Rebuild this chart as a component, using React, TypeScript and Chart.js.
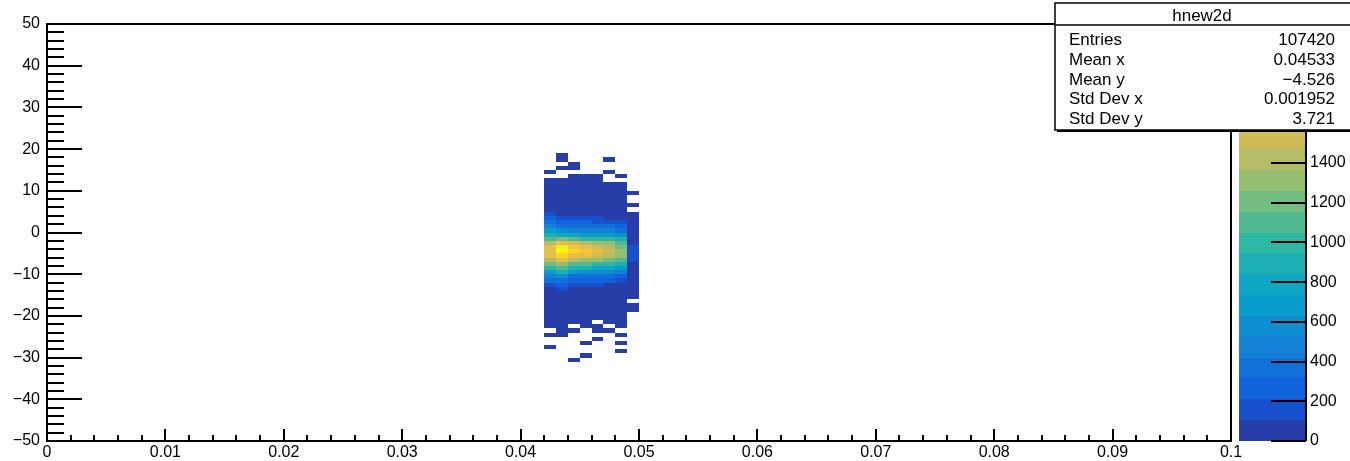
import React, { useEffect, useRef } from "react";
import { Chart, registerables } from "chart.js";

Chart.register(...registerables);

// ---------- data ----------
const X_BIN_LOW = [0.042, 0.043, 0.044, 0.045, 0.046, 0.047, 0.048, 0.049];
const X_BIN_WIDTH = 0.001;
const Y_BIN_WIDTH = 1;
const Y_BIN_LOW = [
  18, 17, 16, 15, 14, 13, 12, 11, 10, 9, 8, 7, 6, 5, 4, 3, 2, 1, 0, -1, -2, -3, -4, -5, -6,
  -7, -8, -9, -10, -11, -12, -13, -14, -15, -16, -17, -18, -19, -20, -21, -22, -23, -24,
  -25, -26, -27, -28, -29, -30, -31,
];

// counts per x-bin column, rows follow Y_BIN_LOW
const COL_0 = [
  0, 0, 0, 0, 1, 0, 2, 3, 5, 8, 12, 18, 28, 45,
  160, 260, 370, 470, 680, 890, 1100, 1420, 1630, 1640, 1600, 1430, 1200, 990, 700, 480, 350, 170,
  95, 60, 40, 25, 15, 10, 6, 4, 3, 2, 0, 1, 0, 0, 1, 0, 0, 0,
];
const COL_1 = [
  1, 2, 0, 2, 0, 0, 3, 4, 6, 9, 14, 22, 35, 55,
  90, 180, 280, 400, 580, 790, 1210, 1620, 1930, 2098, 1830, 1610, 1330, 1150, 880, 560, 360, 240,
  150, 90, 60, 38, 24, 15, 9, 6, 4, 3, 2, 1, 0, 0, 0, 0, 0, 0,
];
const COL_2 = [
  0, 0, 1, 2, 0, 2, 3, 5, 7, 10, 15, 23, 35, 55,
  85, 150, 250, 360, 500, 780, 1090, 1510, 1720, 1820, 1620, 1410, 1100, 900, 690, 380, 260, 140,
  80, 55, 35, 22, 14, 9, 6, 4, 2, 0, 1, 0, 0, 0, 0, 0, 0, 1,
];
const COL_3 = [
  0, 0, 0, 0, 0, 2, 3, 5, 7, 10, 15, 22, 34, 52,
  80, 140, 240, 350, 490, 680, 1000, 1420, 1640, 1700, 1600, 1300, 1080, 880, 580, 370, 250, 130,
  78, 52, 34, 22, 14, 9, 5, 3, 2, 1, 0, 0, 0, 1, 0, 0, 1, 0,
];
const COL_4 = [
  0, 0, 0, 0, 0, 1, 3, 4, 7, 10, 14, 21, 32, 50,
  75, 130, 200, 340, 470, 660, 980, 1300, 1530, 1600, 1520, 1290, 1000, 800, 560, 350, 240, 120,
  75, 50, 32, 20, 12, 8, 5, 3, 0, 2, 1, 0, 1, 0, 0, 0, 0, 0,
];
const COL_5 = [
  0, 1, 0, 0, 1, 0, 0, 3, 5, 8, 12, 19, 30, 46,
  70, 100, 180, 330, 450, 650, 960, 1270, 1400, 1480, 1390, 1180, 950, 760, 540, 340, 220, 100,
  68, 45, 30, 19, 12, 7, 4, 3, 2, 0, 1, 0, 0, 0, 0, 0, 0, 0,
];
const COL_6 = [
  0, 0, 0, 0, 0, 1, 0, 2, 4, 6, 9, 14, 22, 35,
  55, 85, 140, 230, 340, 560, 870, 1080, 1180, 1270, 1280, 1090, 870, 670, 450, 260, 150, 90,
  58, 38, 25, 16, 10, 6, 4, 3, 2, 1, 0, 1, 0, 1, 0, 1, 0, 0,
];
const COL_7 = [
  0, 0, 0, 0, 0, 0, 0, 0, 0, 1, 0, 0, 1, 0,
  2, 3, 5, 8, 14, 22, 34, 50, 110, 125, 115, 108, 45, 32, 22, 14, 9, 6,
  4, 3, 2, 0, 1, 1, 0, 0, 0, 0, 0, 0, 0, 0, 0, 0, 0, 0,
];
const COLUMNS = [COL_0, COL_1, COL_2, COL_3, COL_4, COL_5, COL_6, COL_7];

const X_TICK_VALUES = [0, 0.01, 0.02, 0.03, 0.04, 0.05, 0.06, 0.07, 0.08, 0.09, 0.1];
const X_TICK_LABELS = ["0", "0.01", "0.02", "0.03", "0.04", "0.05", "0.06", "0.07", "0.08", "0.09", "0.1"];
const Y_TICK_VALUES = [-50, -40, -30, -20, -10, 0, 10, 20, 30, 40, 50];
const Y_TICK_LABELS = ["\u221250", "\u221240", "\u221230", "\u221220", "\u221210", "0", "10", "20", "30", "40", "50"];
const Z_TICK_VALUES = [0, 200, 400, 600, 800, 1000, 1200, 1400, 1600, 1800, 2000];
const Z_TICK_LABELS = ["0", "200", "400", "600", "800", "1000", "1200", "1400", "1600", "1800", "2000"];
const X_MINOR_STEP = 0.002;
const Y_MINOR_STEP = 2;

const ZMAX = 2100;
const N_CONTOURS = 20;

const STATS_TITLE = "hnew2d";
const STATS_LABELS = ["Entries", "Mean x", "Mean y", "Std Dev x", "Std Dev y"];
const STATS_VALUES = ["107420", "0.04533", "\u22124.526", "0.001952", "3.721"];

// ROOT kBird palette
const BIRD_STOPS = [0.0, 0.125, 0.25, 0.375, 0.5, 0.625, 0.75, 0.875, 1.0];
const BIRD_R = [0.2082, 0.0592, 0.078, 0.0232, 0.1802, 0.5301, 0.8186, 0.9956, 0.9764];
const BIRD_G = [0.1664, 0.3599, 0.5041, 0.6419, 0.7178, 0.7492, 0.7328, 0.7862, 0.9832];
const BIRD_B = [0.5293, 0.8684, 0.8385, 0.7914, 0.6425, 0.4662, 0.3499, 0.1968, 0.0539];

const FONT = "'Liberation Sans', Arial, Helvetica, sans-serif";

function birdColor(p: number): string {
  let s = 0;
  while (s < BIRD_STOPS.length - 2 && p > BIRD_STOPS[s + 1]) s++;
  const t = (p - BIRD_STOPS[s]) / (BIRD_STOPS[s + 1] - BIRD_STOPS[s]);
  const c = (a: number[]) => Math.round(255 * (a[s] + (a[s + 1] - a[s]) * t));
  return `rgb(${c(BIRD_R)},${c(BIRD_G)},${c(BIRD_B)})`;
}
function levelColor(level: number): string {
  const idx = Math.floor(((level + 0.99) * 255) / N_CONTOURS);
  return birdColor(Math.min(1, idx / 254));
}
function valueColor(v: number): string {
  let lvl = Math.floor(v / (ZMAX / N_CONTOURS));
  if (lvl < 0) lvl = 0;
  if (lvl > N_CONTOURS - 1) lvl = N_CONTOURS - 1;
  return levelColor(lvl);
}

const heatmapPlugin = {
  id: "heatmap",
  beforeDatasetsDraw(chart: any) {
    const { ctx, chartArea, scales } = chart;
    const xs = scales.x;
    const ys = scales.y;
    ctx.save();
    ctx.beginPath();
    ctx.rect(chartArea.left, chartArea.top, chartArea.right - chartArea.left, chartArea.bottom - chartArea.top);
    ctx.clip();
    for (const c of chart.data.datasets[0].data) {
      const x0 = Math.round(xs.getPixelForValue(c.x - X_BIN_WIDTH / 2));
      const x1 = Math.round(xs.getPixelForValue(c.x + X_BIN_WIDTH / 2));
      const y0 = Math.round(ys.getPixelForValue(c.y + Y_BIN_WIDTH / 2));
      const y1 = Math.round(ys.getPixelForValue(c.y - Y_BIN_WIDTH / 2));
      ctx.fillStyle = valueColor(c.v);
      ctx.fillRect(x0, y0, x1 - x0, y1 - y0);
    }
    ctx.restore();
  },
};

const decorPlugin = {
  id: "decor",
  afterDraw(chart: any) {
    const { ctx, chartArea, scales } = chart;
    const xs = scales.x;
    const ys = scales.y;
    const zs = scales.z;
    const { left, right, top, bottom } = chartArea;
    ctx.save();
    ctx.strokeStyle = "#000";
    ctx.lineWidth = 2;
    // frame
    ctx.strokeRect(left, top, right - left, bottom - top);
    // y ticks
    ctx.beginPath();
    const ny = Math.round((ys.max - ys.min) / Y_MINOR_STEP);
    for (let i = 0; i <= ny; i++) {
      const v = ys.min + i * Y_MINOR_STEP;
      const major = Math.abs(v % 10) < 1e-9;
      const py = Math.round(ys.getPixelForValue(v));
      ctx.moveTo(left, py);
      ctx.lineTo(left + (major ? 35 : 17), py);
    }
    // x ticks
    const nx = Math.round((xs.max - xs.min) / X_MINOR_STEP);
    for (let i = 0; i <= nx; i++) {
      const v = xs.min + i * X_MINOR_STEP;
      const major = i % 5 === 0;
      const px = Math.round(xs.getPixelForValue(v));
      ctx.moveTo(px, bottom);
      ctx.lineTo(px, bottom - (major ? 12 : 6));
    }
    ctx.stroke();

    // colour bar
    const cbL = right + 8;
    const cbR = right + 75;
    for (let i = 0; i < N_CONTOURS; i++) {
      const ya = Math.round(zs.getPixelForValue((i * ZMAX) / N_CONTOURS));
      const yb = Math.round(zs.getPixelForValue(((i + 1) * ZMAX) / N_CONTOURS));
      ctx.fillStyle = levelColor(i);
      ctx.fillRect(cbL, yb, cbR - cbL, ya - yb);
    }
    ctx.beginPath();
    ctx.moveTo(cbR, top);
    ctx.lineTo(cbR, bottom);
    for (const v of Z_TICK_VALUES) {
      const py = Math.round(zs.getPixelForValue(v));
      ctx.moveTo(cbR - 35, py);
      ctx.lineTo(cbR, py);
    }
    ctx.stroke();

    // stats box
    const bx = 1055;
    const by = 3;
    const bw = 300;
    const bh = 127;
    ctx.fillStyle = "#fff";
    ctx.fillRect(bx, by, bw, bh);
    ctx.fillStyle = "#000";
    ctx.fillRect(bx + 2, by + bh, bw, 2);
    ctx.lineWidth = 1.5;
    ctx.strokeRect(bx, by, bw, bh);
    ctx.beginPath();
    ctx.moveTo(bx, 25);
    ctx.lineTo(bx + bw, 25);
    ctx.stroke();
    ctx.font = `17px ${FONT}`;
    ctx.textBaseline = "alphabetic";
    ctx.textAlign = "center";
    ctx.fillText(STATS_TITLE, 1202, 21);
    for (let i = 0; i < STATS_LABELS.length; i++) {
      const yb = 45 + i * 19.75;
      ctx.textAlign = "left";
      ctx.fillText(STATS_LABELS[i], 1069, yb);
      ctx.textAlign = "right";
      ctx.fillText(STATS_VALUES[i], 1335, yb);
    }
    ctx.restore();
  },
};

export default function App() {
  const ref = useRef<HTMLCanvasElement | null>(null);
  useEffect(() => {
    document.body.style.margin = "0";
    const canvas = ref.current;
    if (!canvas) return;
    const cells: { x: number; y: number; v: number }[] = [];
    COLUMNS.forEach((col, j) =>
      col.forEach((v, r) => {
        if (v > 0) cells.push({ x: X_BIN_LOW[j] + X_BIN_WIDTH / 2, y: Y_BIN_LOW[r] + Y_BIN_WIDTH / 2, v });
      })
    );
    const tickFont = { family: FONT, size: 16 };
    const chart = new Chart(canvas, {
      type: "scatter",
      data: { datasets: [{ data: cells as any, pointRadius: 0, pointHoverRadius: 0 }] },
      options: {
        animation: false,
        responsive: false,
        maintainAspectRatio: false,
        events: [],
        layout: { padding: { top: 24, left: 0, right: 0, bottom: 0 } },
        plugins: { legend: { display: false }, tooltip: { enabled: false }, title: { display: false } },
        scales: {
          x: {
            type: "linear",
            position: "bottom",
            min: 0,
            max: 0.1,
            grid: { display: false, drawTicks: false },
            border: { display: false },
            afterBuildTicks: (s: any) => {
              s.ticks = X_TICK_VALUES.map((v) => ({ value: v }));
            },
            afterFit: (s: any) => {
              s.height = 20;
            },
            ticks: {
              callback: (_v: any, i: number) => X_TICK_LABELS[i],
              font: tickFont,
              color: "#000",
              padding: 2,
              maxRotation: 0,
              autoSkip: false,
            },
          },
          y: {
            type: "linear",
            position: "left",
            min: -50,
            max: 50,
            grid: { display: false, drawTicks: false },
            border: { display: false },
            afterBuildTicks: (s: any) => {
              s.ticks = Y_TICK_VALUES.map((v) => ({ value: v }));
            },
            afterFit: (s: any) => {
              s.width = 47;
            },
            ticks: {
              callback: (_v: any, i: number) => Y_TICK_LABELS[i],
              font: tickFont,
              color: "#000",
              padding: 7,
              autoSkip: false,
            },
          },
          z: {
            type: "linear",
            position: "right",
            min: 0,
            max: ZMAX,
            grid: { display: false, drawTicks: true, tickLength: 75 },
            border: { display: false },
            afterBuildTicks: (s: any) => {
              s.ticks = Z_TICK_VALUES.map((v) => ({ value: v }));
            },
            afterFit: (s: any) => {
              s.width = 119;
            },
            ticks: {
              callback: (_v: any, i: number) => Z_TICK_LABELS[i],
              font: tickFont,
              color: "#000",
              padding: 4,
              autoSkip: false,
            },
          },
        },
      },
      plugins: [heatmapPlugin, decorPlugin],
    });
    return () => chart.destroy();
  }, []);
  return (
    <div style={{ width: 1350, height: 461, background: "#fff" }}>
      <canvas ref={ref} width={1350} height={461} style={{ display: "block" }} />
    </div>
  );
}
